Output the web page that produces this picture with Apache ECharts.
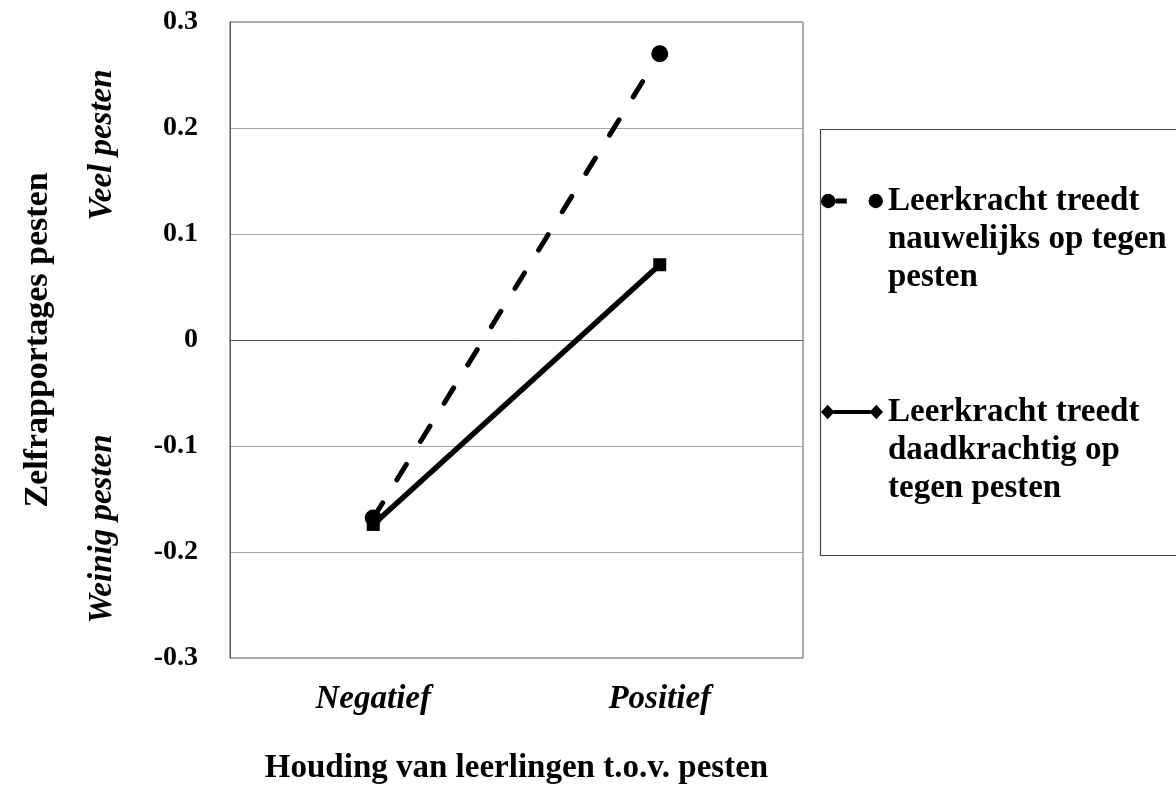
<!DOCTYPE html>
<html><head><meta charset="utf-8">
<script src="https://cdn.jsdelivr.net/npm/echarts@6/dist/echarts.min.js"></script>
<style>html,body{margin:0;padding:0;background:#fff}#c{width:1176px;height:796px}</style>
</head><body><div id="c"></div>
<script>
const categories = ['Negatief', 'Positief'];
const seriesNames = ['Leerkracht treedt\nnauwelijks op tegen\npesten', 'Leerkracht treedt\ndaadkrachtig op\ntegen pesten'];
const nauwelijks = [-0.168, 0.270];
const daadkrachtig = [-0.174, 0.071];
const yTicks = [-0.3, -0.2, -0.1, 0, 0.1, 0.2, 0.3];
const xTitle = 'Houding van leerlingen t.o.v. pesten';
const yTitle = 'Zelfrapportages pesten';
const highLabel = 'Veel pesten';
const lowLabel = 'Weinig pesten';

const FONT = '"Liberation Serif", "Times New Roman", serif';
const ICON_DASH = 'path://M0,7 A7,7 0 1,1 14,7 A7,7 0 1,1 0,7 Z M14,4.5 L25,4.5 L25,9.5 L14,9.5 Z M46,7 A7,7 0 1,1 60,7 A7,7 0 1,1 46,7 Z';
const ICON_SOLID = 'path://M0,7 L6.5,0 L13,7 L6.5,14 Z M12,5 L48,5 L48,9 L12,9 Z M47,7 L53.5,0 L60,7 L53.5,14 Z';

const chart = echarts.init(document.getElementById('c'));
chart.setOption({
  backgroundColor: '#fff',
  animation: false,
  grid: { left: 230, right: 373, top: 22, bottom: 138, show: true, borderColor: '#595959', borderWidth: 1 },
  xAxis: {
    type: 'category', data: categories, boundaryGap: true,
    axisLine: { show: true, lineStyle: { color: '#595959' } },
    axisTick: { show: false },
    axisLabel: { fontFamily: FONT, fontSize: 33, fontStyle: 'italic', fontWeight: 'bold', color: '#000', margin: 25 },
    name: xTitle, nameLocation: 'middle', nameGap: 94,
    nameTextStyle: { fontFamily: FONT, fontSize: 33, fontWeight: 'bold', color: '#000' }
  },
  yAxis: {
    type: 'value', min: yTicks[0], max: yTicks[yTicks.length - 1], interval: 0.1,
    axisLine: { show: true, lineStyle: { color: '#595959' } },
    axisTick: { show: false },
    splitLine: { lineStyle: { color: '#a6a6a6', width: 1 } },
    axisLabel: {
      fontFamily: FONT, fontSize: 28, fontWeight: 'bold', color: '#000', margin: 32,
      formatter: v => { const r = Math.round(v * 10) / 10; return r === 0 ? '0' : r.toFixed(1); }
    },
    name: yTitle, nameLocation: 'middle', nameGap: 175, nameRotate: 90,
    nameTextStyle: { fontFamily: FONT, fontSize: 34, fontWeight: 'bold', color: '#000' }
  },
  legend: {
    orient: 'vertical', left: 821, top: 106, padding: 0, itemGap: 21,
    itemWidth: 62, itemHeight: 18,
    data: [
      { name: seriesNames[0], icon: ICON_DASH },
      { name: seriesNames[1], icon: ICON_SOLID }
    ],
    formatter: n => '\n\n' + n,
    textStyle: { fontFamily: FONT, fontSize: 33, fontWeight: 'bold', color: '#000', lineHeight: 38 }
  },
  graphic: [
    { type: 'rect', left: 818, top: 127, shape: { width: 357, height: 426 }, style: { fill: 'none', stroke: '#444', lineWidth: 1.2 }, z: 0 },
    { type: 'text', x: 102, y: 145, rotation: Math.PI / 2, style: { text: highLabel, fontFamily: FONT, fontSize: 33, fontStyle: 'italic', fontWeight: 'bold', fill: '#000', align: 'center', verticalAlign: 'middle' } },
    { type: 'text', x: 102, y: 529, rotation: Math.PI / 2, style: { text: lowLabel, fontFamily: FONT, fontSize: 33, fontStyle: 'italic', fontWeight: 'bold', fill: '#000', align: 'center', verticalAlign: 'middle' } }
  ],
  series: [
    {
      name: seriesNames[0], type: 'line', data: nauwelijks,
      symbol: 'circle', symbolSize: 17,
      lineStyle: { color: '#000', width: 5, type: [18, 27], cap: 'round' },
      itemStyle: { color: '#000' }
    },
    {
      name: seriesNames[1], type: 'line', data: daadkrachtig,
      symbol: 'rect', symbolSize: 13,
      lineStyle: { color: '#000', width: 5.5 },
      itemStyle: { color: '#000' }
    }
  ]
});
</script></body></html>
